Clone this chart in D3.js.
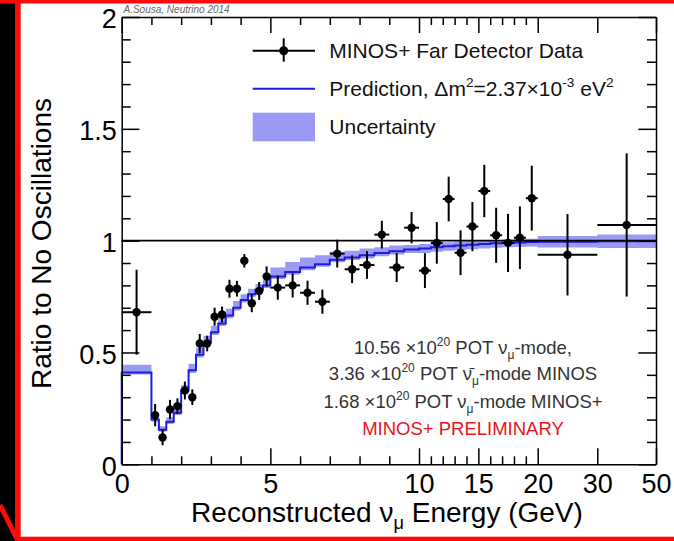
<!DOCTYPE html>
<html>
<head>
<meta charset="utf-8">
<script src="https://cdn.jsdelivr.net/npm/d3@7"></script>
<style>
  body { margin: 0; background: #000; }
  svg { display: block; }
</style>
</head>
<body>
<svg width="674" height="541"></svg>
<script>
// Bin edges in reconstructed energy (GeV)
const binEdges = [0, 1, 1.25, 1.5, 1.75, 2, 2.25, 2.5, 2.75, 3, 3.25, 3.5, 3.75, 4, 4.25, 4.5, 4.75, 5,
    5.5, 6, 6.5, 7, 7.5, 8, 8.5, 9, 9.5, 10,
    11, 12, 13, 14, 15, 16, 17, 18, 19, 20, 30, 50];

// Far detector data: ratio to no oscillations and its error
const dataRatio = [0.68,
    0.22, 0.12, 0.245, 0.26, 0.33, 0.30, 0.54, 0.54, 0.66, 0.67, 0.785, 0.785, 0.91, 0.72, 0.775, 0.84,
    0.79, 0.80, 0.767, 0.727, 0.942, 0.872, 0.891, 1.027, 0.88, 1.058,
    0.866, 0.99, 1.186, 0.946, 1.063, 1.222, 1.024, 0.99, 1.013, 1.19,
    0.937, 1.07];
const dataError = [0.19,
    0.05, 0.035, 0.043, 0.035, 0.04, 0.035, 0.043, 0.035, 0.04, 0.035, 0.04, 0.035, 0.03, 0.04, 0.04, 0.045,
    0.054, 0.054, 0.054, 0.054, 0.062, 0.062, 0.062, 0.062, 0.065, 0.07,
    0.078, 0.093, 0.1, 0.1, 0.11, 0.117, 0.123, 0.13, 0.14, 0.145,
    0.182, 0.32];

// Prediction (step histogram) and its uncertainty band
const prediction = [0.41,
    0.20, 0.155, 0.19, 0.23, 0.33, 0.42, 0.49, 0.545, 0.59, 0.63, 0.665, 0.70, 0.735, 0.76, 0.78, 0.80,
    0.84, 0.86, 0.88, 0.895, 0.915, 0.925, 0.935, 0.945, 0.953, 0.96,
    0.965, 0.97, 0.975, 0.978, 0.982, 0.985, 0.988, 0.99, 0.992, 0.994,
    0.995, 0.997];
const bandUp = [0.035,
    0.015, 0.015, 0.02, 0.02, 0.025, 0.03, 0.03, 0.03, 0.03, 0.03, 0.03, 0.03, 0.025, 0.025, 0.025, 0.025,
    0.04, 0.045, 0.045, 0.04, 0.035, 0.03, 0.03, 0.025, 0.025, 0.02,
    0.02, 0.02, 0.018, 0.018, 0.016, 0.016, 0.015, 0.015, 0.015, 0.015,
    0.026, 0.03];
const bandDown = [0.008,
    0.01, 0.01, 0.01, 0.01, 0.012, 0.012, 0.012, 0.012, 0.012, 0.012, 0.012, 0.012, 0.012, 0.012, 0.012, 0.012,
    0.012, 0.012, 0.012, 0.012, 0.012, 0.012, 0.015, 0.015, 0.015, 0.015,
    0.02, 0.02, 0.02, 0.02, 0.02, 0.02, 0.02, 0.02, 0.02, 0.02,
    0.026, 0.03];

// Axis ticks
const xMajor = [0, 5, 10, 15, 20, 30, 50];
const xMinor = [1, 2, 3, 4, 6, 7, 8, 9, 11, 12, 13, 14, 16, 17, 18, 19];
const yMajor = [0, 0.5, 1, 1.5, 2];
const yMinor = [0.1, 0.2, 0.3, 0.4, 0.6, 0.7, 0.8, 0.9, 1.1, 1.2, 1.3, 1.4, 1.6, 1.7, 1.8, 1.9];

const FONT = "'Liberation Sans', Arial, Helvetica, sans-serif";
const BLUE = "#1c1ce0";
const BAND = "#9a9af4";

const svg = d3.select("svg");

// Frame around the slide: black, white page, red border strokes
svg.append("rect").attr("width", 674).attr("height", 541).attr("fill", "#000");
svg.append("rect").attr("x", 20).attr("y", 3).attr("width", 654).attr("height", 534).attr("fill", "#fff");
svg.append("rect").attr("x", 0).attr("y", 0).attr("width", 674).attr("height", 3.5).attr("fill", "#ff0a0a");
svg.append("rect").attr("x", 15).attr("y", 0).attr("width", 5.7).attr("height", 541).attr("fill", "#ff0a0a");
svg.append("rect").attr("x", 15).attr("y", 536.7).attr("width", 659).attr("height", 4.3).attr("fill", "#ff0a0a");
svg.append("line").attr("x1", 0).attr("y1", 505).attr("x2", 17).attr("y2", 539)
    .attr("stroke", "#ff0a0a").attr("stroke-width", 5);

// Piecewise x scale (0-10 wide, then compressed)
const x = d3.scaleLinear().domain([0, 10, 20, 30, 50]).range([121.7, 419, 537.7, 597.3, 656]);
const y = d3.scaleLinear().domain([0, 2]).range([464.3, 17]);

const nBins = prediction.length;
const bins = d3.range(nBins).map(i => ({
    lo: binEdges[i], hi: binEdges[i + 1], mid: (binEdges[i] + binEdges[i + 1]) / 2,
    ratio: dataRatio[i], err: dataError[i],
    pred: prediction[i], up: prediction[i] + bandUp[i], down: prediction[i] - bandDown[i]
}));

// Uncertainty band
const bandPts = bins.concat([{ lo: binEdges[nBins], up: bins[nBins - 1].up, down: bins[nBins - 1].down }]);
svg.append("path")
    .datum(bandPts)
    .attr("fill", BAND)
    .attr("d", d3.area().curve(d3.curveStepAfter)
        .x(d => x(d.lo)).y0(d => y(d.down)).y1(d => y(d.up)));

// Prediction step line (starts from zero at x=0)
const linePts = [{ lo: 0, pred: 0 }].concat(bins, [{ lo: binEdges[nBins], pred: bins[nBins - 1].pred }]);
svg.append("path")
    .datum(linePts)
    .attr("fill", "none")
    .attr("stroke", BLUE)
    .attr("stroke-width", 2)
    .attr("d", d3.line().curve(d3.curveStepAfter).x(d => x(d.lo)).y(d => y(d.pred)));

// Line at ratio 1
svg.append("line")
    .attr("x1", x(0)).attr("x2", x(50)).attr("y1", y(1)).attr("y2", y(1))
    .attr("stroke", "#000").attr("stroke-width", 1.6);

// Data points with error bars
const pts = svg.append("g");
pts.selectAll(".vbar").data(bins).join("line")
    .attr("x1", d => x(d.mid)).attr("x2", d => x(d.mid))
    .attr("y1", d => y(d.ratio - d.err)).attr("y2", d => y(d.ratio + d.err))
    .attr("stroke", "#000").attr("stroke-width", 2);
pts.selectAll(".hbar").data(bins).join("line")
    .attr("x1", d => x(d.lo)).attr("x2", d => x(d.hi))
    .attr("y1", d => y(d.ratio)).attr("y2", d => y(d.ratio))
    .attr("stroke", "#000").attr("stroke-width", 2);
pts.selectAll("circle").data(bins).join("circle")
    .attr("cx", d => x(d.mid)).attr("cy", d => y(d.ratio)).attr("r", 4.2)
    .attr("fill", "#000");

// Axes, ROOT style: ticks inside on all four sides
function styleAxis(g) {
    g.selectAll("path, line").attr("stroke", "#000").attr("stroke-width", 1.5);
    g.attr("font-family", FONT).attr("font-size", 27);
    g.selectAll("text").attr("fill", "#000");
}
svg.append("g").attr("transform", `translate(0,${y(0)})`)
    .call(d3.axisBottom(x).tickValues(xMajor).tickSize(-16).tickSizeOuter(0).tickPadding(9.5).tickFormat(d3.format("d")))
    .call(styleAxis);
svg.append("g").attr("transform", `translate(0,${y(0)})`)
    .call(d3.axisBottom(x).tickValues(xMinor).tickSize(-8).tickFormat(""))
    .call(styleAxis).call(g => g.select(".domain").remove());
svg.append("g").attr("transform", `translate(0,${y(2)})`)
    .call(d3.axisTop(x).tickValues(xMajor).tickSize(-16).tickSizeOuter(0).tickFormat(""))
    .call(styleAxis);
svg.append("g").attr("transform", `translate(0,${y(2)})`)
    .call(d3.axisTop(x).tickValues(xMinor).tickSize(-8).tickFormat(""))
    .call(styleAxis).call(g => g.select(".domain").remove());
svg.append("g").attr("transform", `translate(${x(0)},0)`)
    .call(d3.axisLeft(y).tickValues(yMajor).tickSize(-17.7).tickSizeOuter(0).tickPadding(5).tickFormat(d => String(d)))
    .call(styleAxis)
    .call(g => g.selectAll("text").attr("dy", "0.4em"));
svg.append("g").attr("transform", `translate(${x(0)},0)`)
    .call(d3.axisLeft(y).tickValues(yMinor).tickSize(-9).tickFormat(""))
    .call(styleAxis).call(g => g.select(".domain").remove());
svg.append("g").attr("transform", `translate(${x(50)},0)`)
    .call(d3.axisRight(y).tickValues(yMajor).tickSize(-17.7).tickSizeOuter(0).tickFormat(""))
    .call(styleAxis);
svg.append("g").attr("transform", `translate(${x(50)},0)`)
    .call(d3.axisRight(y).tickValues(yMinor).tickSize(-9).tickFormat(""))
    .call(styleAxis).call(g => g.select(".domain").remove());

// Text with super/subscripts: parts are [text, "sup"|"sub"|undefined]
function richText(sel, parts, fs) {
    let shift = 0;
    parts.forEach(([t, mode]) => {
        const target = mode === "sup" ? -fs * 0.42 : mode === "sub" ? fs * 0.28 : 0;
        sel.append("tspan")
            .attr("dy", target - shift)
            .attr("font-size", mode ? fs * 0.65 : fs)
            .text(t);
        shift = target;
    });
}

// Axis titles
const xTitle = svg.append("text").attr("x", 387).attr("y", 521.5)
    .attr("text-anchor", "middle").attr("font-family", FONT).attr("fill", "#000");
richText(xTitle, [["Reconstructed ν"], ["μ", "sub"], [" Energy (GeV)"]], 28);

svg.append("text")
    .attr("transform", "translate(51,243.5) rotate(-90)")
    .attr("text-anchor", "middle").attr("font-family", FONT).attr("font-size", 28).attr("fill", "#000")
    .text("Ratio to No Oscillations");

// Credit
svg.append("text").attr("x", 123.5).attr("y", 12.5)
    .attr("font-family", FONT).attr("font-size", 10).attr("font-style", "italic").attr("fill", "#666")
    .text("A.Sousa, Neutrino 2014");

// Legend
const leg = svg.append("g");
leg.append("line").attr("x1", 252.7).attr("x2", 315).attr("y1", 50.7).attr("y2", 50.7)
    .attr("stroke", "#000").attr("stroke-width", 2);
leg.append("line").attr("x1", 283.7).attr("x2", 283.7).attr("y1", 38.3).attr("y2", 61.7)
    .attr("stroke", "#000").attr("stroke-width", 2);
leg.append("circle").attr("cx", 283.7).attr("cy", 50.7).attr("r", 4.5).attr("fill", "#000");
leg.append("line").attr("x1", 252.7).attr("x2", 315).attr("y1", 88.7).attr("y2", 88.7)
    .attr("stroke", BLUE).attr("stroke-width", 2);
leg.append("rect").attr("x", 252.7).attr("y", 112.7).attr("width", 62.3).attr("height", 28.6)
    .attr("fill", BAND);

const legText = (yy) => leg.append("text").attr("x", 329.3).attr("y", yy)
    .attr("font-family", FONT).attr("fill", "#111");
legText(57.5).attr("font-size", 21).text("MINOS+ Far Detector Data");
richText(legText(96), [["Prediction, Δm"], ["2", "sup"], ["=2.37×10"], ["-3", "sup"], [" eV"], ["2", "sup"]], 21);
legText(134).attr("font-size", 21).text("Uncertainty");

// Exposure annotation
const note = (yy, color) => svg.append("text").attr("x", 463).attr("y", yy)
    .attr("text-anchor", "middle").attr("font-family", FONT).attr("fill", color);
richText(note(353.5, "#333"), [["10.56 ×10"], ["20", "sup"], [" POT ν"], ["μ", "sub"], ["-mode,"]], 18.5);
richText(note(380, "#333"), [["3.36 ×10"], ["20", "sup"], [" POT ν\u0304"], ["μ", "sub"], ["-mode MINOS"]], 18.5);
richText(note(408, "#333"), [["1.68 ×10"], ["20", "sup"], [" POT ν"], ["μ", "sub"], ["-mode MINOS+"]], 18.5);
note(434.5, "#e8141c").attr("font-size", 18.5).text("MINOS+ PRELIMINARY");
</script>
</body>
</html>
